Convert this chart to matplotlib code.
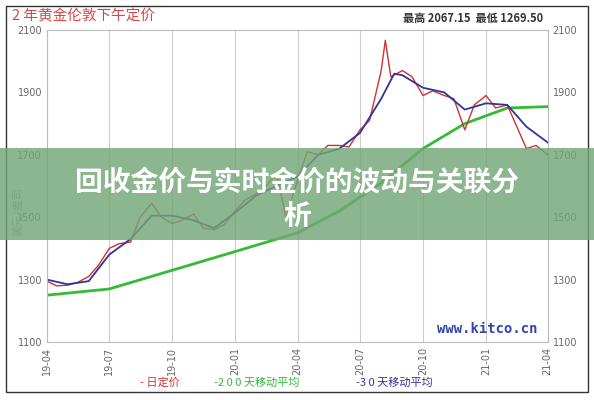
import matplotlib
matplotlib.use('Agg')
import matplotlib.pyplot as plt
import pandas as pd
from matplotlib.patches import Rectangle

plt.rcParams['font.family'] = ['Noto Sans CJK SC', 'DejaVu Sans']

# daily fix (sampled)
fix_dates = ['2019-04-01', '2019-04-15', '2019-05-01', '2019-05-15', '2019-06-01', '2019-06-15',
             '2019-07-01', '2019-07-15', '2019-08-01', '2019-08-15', '2019-09-01', '2019-09-15',
             '2019-10-01', '2019-10-15', '2019-11-01', '2019-11-15', '2019-12-01', '2019-12-15',
             '2020-01-01', '2020-01-15', '2020-02-01', '2020-02-15', '2020-03-01', '2020-03-15',
             '2020-04-01', '2020-04-15', '2020-05-01', '2020-05-15', '2020-06-01', '2020-06-15',
             '2020-07-01', '2020-07-15', '2020-08-01', '2020-08-07', '2020-08-15', '2020-09-01',
             '2020-09-15', '2020-10-01', '2020-10-15', '2020-11-01', '2020-11-15', '2020-12-01',
             '2020-12-15', '2021-01-01', '2021-01-15', '2021-02-01', '2021-02-15', '2021-03-01',
             '2021-03-15', '2021-04-01', '2021-04-15']
fix_values = [1295, 1280, 1282, 1290, 1310, 1345, 1400, 1415, 1420, 1500, 1545, 1500,
              1480, 1490, 1510, 1465, 1460, 1475, 1520, 1555, 1575, 1600, 1640, 1500,
              1620, 1710, 1700, 1730, 1730, 1725, 1780, 1810, 1970, 2067, 1950, 1970,
              1950, 1890, 1905, 1890, 1880, 1780, 1860, 1890, 1850, 1860, 1790, 1720,
              1730, 1700, 1760]

ma30_dates = ['2019-04-01', '2019-05-01', '2019-06-01', '2019-07-01', '2019-08-01', '2019-09-01',
              '2019-10-01', '2019-11-01', '2019-12-01', '2020-01-01', '2020-02-01', '2020-03-01',
              '2020-04-01', '2020-05-01', '2020-06-01', '2020-07-01', '2020-08-01', '2020-08-20',
              '2020-09-01', '2020-10-01', '2020-11-01', '2020-12-01', '2021-01-01', '2021-02-01',
              '2021-03-01', '2021-04-10']
ma30_values = [1300, 1285, 1295, 1380, 1430, 1505, 1505, 1490, 1465, 1515, 1570, 1600,
               1630, 1700, 1720, 1770, 1880, 1960, 1955, 1915, 1900, 1845, 1865, 1860,
               1790, 1725]

ma200_dates = ['2019-04-01', '2019-07-01', '2019-10-01', '2020-01-01', '2020-04-01',
               '2020-06-01', '2020-08-01', '2020-10-01', '2020-12-01', '2021-02-01', '2021-04-10']
ma200_values = [1250, 1270, 1330, 1390, 1450, 1520, 1610, 1720, 1800, 1850, 1855]

ticks = ['2019-04', '2019-07', '2019-10', '2020-01', '2020-04', '2020-07', '2020-10', '2021-01', '2021-04']
tick_labels = ['19-04', '19-07', '19-10', '20-01', '20-04', '20-07', '20-10', '21-01', '21-04']
yticks = [1100, 1300, 1500, 1700, 1900, 2100]

fig = plt.figure(figsize=(5.94, 4.0), dpi=100)
fig.patches.append(Rectangle((0.01, 0.02), 0.98, 0.965, transform=fig.transFigure,
                             fill=False, edgecolor='#333333', linewidth=1))
ax = fig.add_axes([0.079, 0.145, 0.843, 0.78])

ax.plot(pd.to_datetime(ma200_dates), ma200_values, color='#33bb33', linewidth=2)
ax.plot(pd.to_datetime(fix_dates), fix_values, color='#cc3333', linewidth=1)
ax.plot(pd.to_datetime(ma30_dates), ma30_values, color='#333399', linewidth=1.3)

tk = pd.to_datetime(ticks)
ax.set_xlim(tk[0], tk[-1])
ax.set_ylim(1100, 2100)
ax.set_xticks(tk)
ax.set_xticklabels(tick_labels, rotation=90, fontsize=7, color='#666666', family='DejaVu Sans')
ax.set_yticks(yticks)
ax.set_yticklabels([str(v) for v in yticks], fontsize=7, color='#666666', family='DejaVu Sans')
ax.tick_params(length=0, labelright=True)
ax.xaxis.grid(True, color='#cccccc', linewidth=0.8)
for s in ax.spines.values():
    s.set_color('#bbbbbb')
ax.text(0.98, 0.02, 'www.kitco.cn', transform=ax.transAxes, ha='right', va='bottom',
        color='#3344aa', fontsize=10, family='DejaVu Sans Mono', weight='bold')

fig.text(0.02, 0.95, '2 年黄金伦敦下午定价', color='#dd4444', fontsize=10.5)
fig.text(0.915, 0.945, '最高 2067.15  最低 1269.50', color='#333333', fontsize=8,
         ha='right', weight='bold')
fig.text(0.02, 0.47, '美元/盎司', color='#aaaaaa', fontsize=8, rotation=90, va='center')

fig.text(0.235, 0.035, '- 日定价', color='#cc3333', fontsize=8)
fig.text(0.36, 0.035, '-2 0 0 天移动平均', color='#33bb33', fontsize=8)
fig.text(0.6, 0.035, '-3 0 天移动平均', color='#333399', fontsize=8)

# banner overlay
fig.patches.append(Rectangle((0, 0.4), 1, 0.23, transform=fig.transFigure,
                             facecolor='#73a676', alpha=0.82, edgecolor='none', zorder=5))
fig.text(0.5, 0.545, '回收金价与实时金价的波动与关联分', color='white', fontsize=20,
         weight='bold', ha='center', va='center', zorder=6)
fig.text(0.5, 0.458, '析', color='white', fontsize=20, weight='bold',
         ha='center', va='center', zorder=6)

fig.savefig('out.png', dpi=100)
